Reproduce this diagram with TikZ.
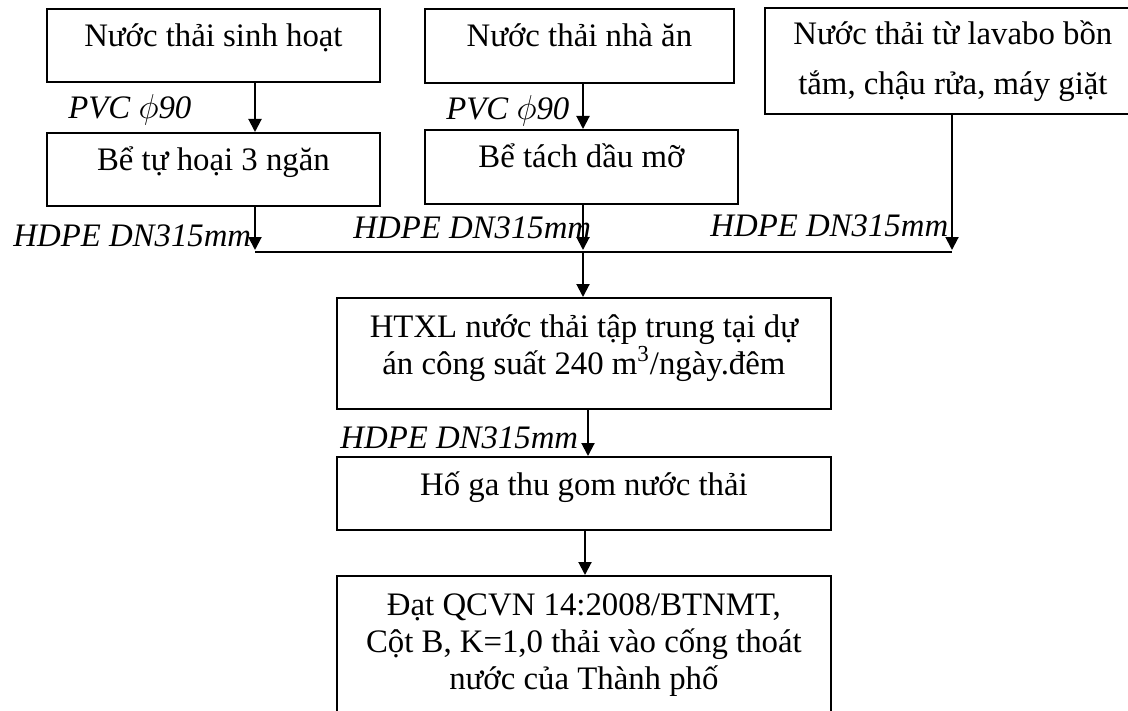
\documentclass[tikz,border=0pt]{standalone}
\usepackage{fontspec}
\setmainfont{Liberation Serif}
\usetikzlibrary{arrows.meta}

\begin{document}
\begin{tikzpicture}[
  x=0.5pt, y=-0.5pt,
  box/.style={draw, line width=0.9pt, rectangle, inner sep=0pt, anchor=north west},
  txt/.style={anchor=base, inner sep=0pt, align=center,
    font=\fontsize{16.4}{18.5}\selectfont},
  pipe/.style={anchor=base west, inner sep=0pt,
    font=\fontsize{16.4}{18.5}\selectfont\itshape},
  flow/.style={line width=1pt, -{Triangle[length=6.5pt,width=6.5pt]}},
  link/.style={line width=1pt},
]
\useasboundingbox (0,0) rectangle (1128,711);

% --- sources ---
\node[box, minimum width=166.5pt, minimum height=36.5pt] (src1) at (46,8) {};
\node[txt] (t1) at ([yshift=-19.5pt]src1.north) {Nước thải sinh hoạt};

\node[box, minimum width=154.5pt, minimum height=37pt] (src2) at (424,8) {};
\node[txt] (t2) at ([yshift=-19.5pt]src2.north) {Nước thải nhà ăn};

\node[box, minimum width=188pt, minimum height=53pt] (src3) at (764,7) {};
\node[txt, font=\fontsize{16.4}{25}\selectfont] (t3) at ([yshift=-44pt]src3.north)
  {Nước thải từ lavabo bồn\\tắm, chậu rửa, máy giặt};

% --- pre-treatment ---
\node[box, minimum width=166.5pt, minimum height=36.5pt] (tank1) at (46,132) {};
\node[txt] (t4) at ([yshift=-19.5pt]tank1.north) {Bể tự hoại 3 ngăn};

\node[box, minimum width=156.5pt, minimum height=37pt] (tank2) at (424,129) {};
\node[txt] (t5) at ([yshift=-19.5pt]tank2.north) {Bể tách dầu mỡ};

% --- treatment plant and outlet ---
\node[box, minimum width=247pt, minimum height=55.5pt] (plant) at (336,297) {};
\node[txt] (t6) at ([yshift=-38.5pt]plant.north)
  {HTXL nước thải tập trung tại dự\\án công suất 240 m\textsuperscript{3}/ngày.đêm};

\node[box, minimum width=247pt, minimum height=36.5pt] (pit) at (336,456) {};
\node[txt] (t7) at ([yshift=-19.5pt]pit.north) {Hố ga thu gom nước thải};

\node[box, minimum width=247pt, minimum height=75pt] (out) at (336,575) {};
\node[txt] (t8) at ([yshift=-57pt]out.north)
  {Đạt QCVN 14:2008/BTNMT,\\Cột B, K=1,0 thải vào cống thoát\\nước của Thành phố};

% --- junction points on the collector line ---
\coordinate (j1) at (255,252);
\coordinate (j2) at (583,252);
\coordinate (j3) at (952,252);
\coordinate (a1) at (588,0);
\coordinate (a2) at (585,0);

% --- connectors ---
\draw[flow] (src1.south -| j1) -- (tank1.north -| j1);
\draw[flow] (src2.south -| j2) -- (tank2.north -| j2);
\draw[flow] (tank1.south -| j1) -- ([yshift=1pt]j1);
\draw[flow] (tank2.south -| j2) -- ([yshift=1pt]j2);
\draw[flow] (src3.south -| j3) -- ([yshift=1pt]j3);
\draw[link] (j1) -- (j3);
\draw[flow] (j2) -- (plant.north -| j2);
\draw[flow] (plant.south -| a1) -- (pit.north -| a1);
\draw[flow] (pit.south -| a2) -- (out.north -| a2);

% --- pipe labels ---
\node[pipe] (p1) at (68,119) {PVC $\phi$90};
\node[pipe] (p2) at (446,120) {PVC $\phi$90};
\node[pipe] (h1) at (13,246) {HDPE DN315mm};
\node[pipe] (h2) at (353,238) {HDPE DN315mm};
\node[pipe] (h3) at (710,236) {HDPE DN315mm};
\node[pipe] (h4) at (340,448) {HDPE DN315mm};
\end{tikzpicture}
\end{document}
